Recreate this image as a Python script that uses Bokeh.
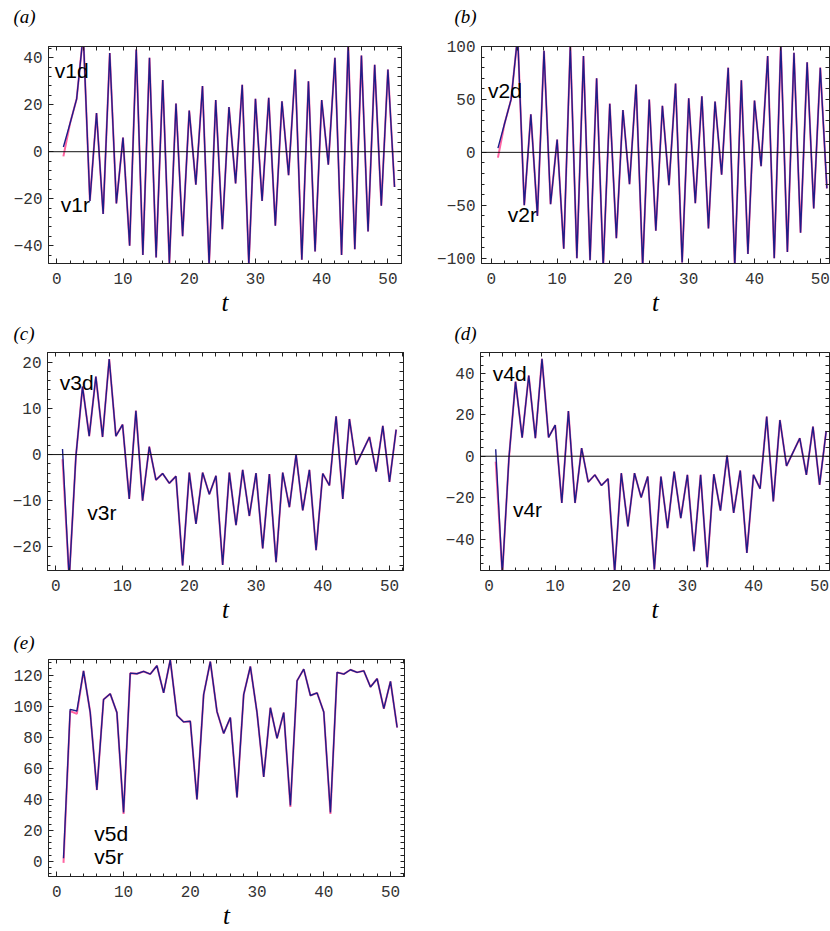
from bokeh.plotting import figure
from bokeh.models import Span, Label, LinearAxis, SingleIntervalTicker, FixedTicker, Range1d
from bokeh.layouts import column, row
from bokeh.embed import file_html
from bokeh.resources import INLINE

t = list(range(1, 52))

v1d = [2, 12, 22.5, 50, -21, 16.5, -26.5, 42, -22, 6, -40, 43.5, -44, 40, -45, 30.5, -47.5, 20.5, -36, 17.5,
       -14, 28, -48, 22, -33, 19, -13.5, 28.5, -48, 22.5, -21, 23, -31.5, 21.5, -10, 35, -46, 30, -42.5, 22,
       -5.5, 40, -44, 46, -41.5, 41, -34, 37, -23, 35, -15]
v1r = [-2] + v1d[1:]

v2d = [4, 27, 50, 110, -50, 36, -60, 96, -49, 12, -91, 101, -100, 91, -102, 70, -108, 46, -81, 40,
       -30, 64, -108, 50, -74, 44, -31, 65, -104, 51, -48, 53, -72, 48, -21, 80, -108, 68, -96, 49,
       -13, 91, -100, 102, -94, 94, -76, 85, -53, 80, -34]
v2r = [-5] + v2d[1:]

v3d = [1.2, -27, -0.5, 14.7, 4, 16.9, 3.8, 20.7, 4, 6.5, -9.6, 9.5, -10, 1.7, -5.5, -4.1, -6.2, -4.7, -24, -3.9,
       -15, -3.9, -8.6, -4.6, -23.9, -3.9, -15.3, -3.3, -13.3, -4, -20.3, -4.2, -23.3, -3.9, -11.4, 0, -12.1, -3.3, -20.7, -4.1,
       -6.7, 8.3, -9.6, 7.7, -2.2, 0.8, 3.8, -3.7, 6.2, -5.9, 5.4]
v3r = [-1] + v3d[1:]

v4d = [3.4, -57, -1, 36, 9, 39, 8.7, 47, 9.1, 15, -22.6, 21.8, -22.6, 3.9, -12.5, -9, -14.1, -10.9, -56, -8.2,
       -33.9, -8.2, -19.9, -9.8, -54.7, -9.8, -34.7, -7.4, -29.9, -9, -45.9, -9, -53.6, -8.7, -26.3, 0.3, -27.4, -6.9, -46.7, -9,
       -15.7, 19.1, -21.8, 17.5, -4.7, 2, 8.7, -9, 14.3, -13.8, 12.2]
v4r = [-2.6] + v4d[1:]

v5d = [2, 97.9, 96.8, 122.7, 96, 45.9, 104.2, 107.9, 95.8, 31.4, 121.2, 120.8, 122.3, 120.6, 126, 108.5, 129.7, 94, 89.8, 90.2,
       39.9, 107.4, 128.7, 96.4, 82.4, 92.6, 41.2, 107.4, 125.5, 95.8, 54.4, 98.9, 79.2, 95.8, 35.9, 116.3, 123.8, 106.8, 108.5, 96.2,
       31.4, 121.7, 120.6, 123.4, 121.7, 122.7, 112.3, 117.6, 98.3, 115.9, 86.2]
v5r = list(v5d)
v5r[0] = -1
v5r[1] = 96.8
v5r[2] = 95
v5r[9] = 30.5
v5r[34] = 35
v5r[40] = 30.5

BLUE = "#1d1d88"
PINK = "#ff3d8b"
TICK_FONT = "Liberation Mono"
FRAME = "#222222"


def mirror_ticks(lo, hi, step):
    # positions of all (major and minor) frame ticks, for the unlabeled top/right edges
    n0 = int(lo // step) - 1
    n1 = int(hi // step) + 2
    return [k * step for k in range(n0, n1) if lo <= k * step <= hi]


def panel(tag, d, r, xr, yr, yint, names, width, height, bl, br, bt, bb,
          tag_x, tag_y, zero=True):
    p = figure(width=width, height=height, output_backend="svg", toolbar_location=None,
               x_range=Range1d(*xr), y_range=Range1d(*yr),
               min_border_left=bl, min_border_right=br, min_border_top=bt, min_border_bottom=bb,
               x_axis_label="t")
    p.grid.visible = False
    p.outline_line_color = FRAME
    p.outline_line_width = 1
    p.background_fill_color = "white"
    p.border_fill_color = "white"

    top = LinearAxis(ticker=FixedTicker(ticks=[], minor_ticks=mirror_ticks(xr[0], xr[1], 2)))
    right = LinearAxis(ticker=FixedTicker(ticks=[], minor_ticks=mirror_ticks(yr[0], yr[1], yint / 5)))
    p.add_layout(top, "above")
    p.add_layout(right, "right")
    p.below[0].ticker = SingleIntervalTicker(interval=10, num_minor_ticks=5)
    p.left[0].ticker = SingleIntervalTicker(interval=yint, num_minor_ticks=5)
    for ax in p.axis:
        ax.major_tick_in = 5
        ax.major_tick_out = 0
        ax.minor_tick_in = 3
        ax.minor_tick_out = 0
        ax.axis_line_color = FRAME
        ax.major_tick_line_color = FRAME
        ax.minor_tick_line_color = FRAME
        ax.major_label_text_font = TICK_FONT
        ax.major_label_text_font_size = "16px"
        ax.major_label_text_color = "#333333"
        ax.major_label_standoff = 6
    for ax in (top, right):
        ax.major_label_standoff = 0
        ax.minor_tick_in = 4
    xb = p.below[0]
    xb.axis_label_text_font = "Liberation Serif"
    xb.axis_label_text_font_style = "italic"
    xb.axis_label_text_font_size = "25px"
    xb.axis_label_text_color = "black"
    xb.axis_label_standoff = 2
    xb.major_label_standoff = 9

    if zero:
        p.add_layout(Span(location=0, dimension="width", line_color="#111111", line_width=1))

    p.line(t, r, line_color=PINK, line_width=2.0, line_alpha=0.8)
    p.line(t, d, line_color=BLUE, line_width=1.4)

    for (txt, x, y) in names:
        p.add_layout(Label(x=x, y=y, text=txt, text_font="Liberation Sans", text_font_size="21px",
                           text_color="black", text_align="left", text_baseline="middle"))

    # panel tag, placed in the top side panel (outside the frame, so not clipped)
    p.add_layout(Label(x=tag_x, y=tag_y, x_units="screen", y_units="screen", text=tag,
                       text_font="Liberation Serif", text_font_style="italic", text_font_size="19px",
                       text_color="black", text_align="left", text_baseline="middle"), "above")
    return p


pa = panel("(a)", v1d, v1r, (-1.25, 52.05), (-47.6, 44.8), 20,
           [("v1d", -0.3, 34.4), ("v1r", 0.6, -22.3)], 415, 318, 48, 14, 46, 53, -35, 30)
pb = panel("(b)", v2d, v2r, (-1.5, 51.4), (-105, 100), 50,
           [("v2d", -0.5, 58), ("v2r", 2.5, -59)], 415, 318, 66, 1, 46, 53, -27, 30)
pc = panel("(c)", v3d, v3r, (-1.25, 52.1), (-25.1, 22.1), 10,
           [("v3d", 0.6, 15.5), ("v3r", 4.7, -12.5)], 415, 307, 47, 12, 34, 53, -34, 19)
pd = panel("(d)", v4d, v4r, (-1.3, 51.5), (-55.2, 50.1), 20,
           [("v4d", 0.55, 40), ("v4r", 3.6, -25.8)], 415, 307, 65, 1, 34, 53, -26, 19)
pe = panel("(e)", v5d, v5r, (-1.25, 52.1), (-9.8, 130), 20,
           [("v5d", 5.6, 17.6), ("v5r", 5.6, 3.4)], 415, 306, 48, 11, 34, 52, -35, 17, zero=False)

layout = column(row(pa, pb), row(pc, pd), pe)

open("out.html", "w").write(file_html(layout, INLINE))
